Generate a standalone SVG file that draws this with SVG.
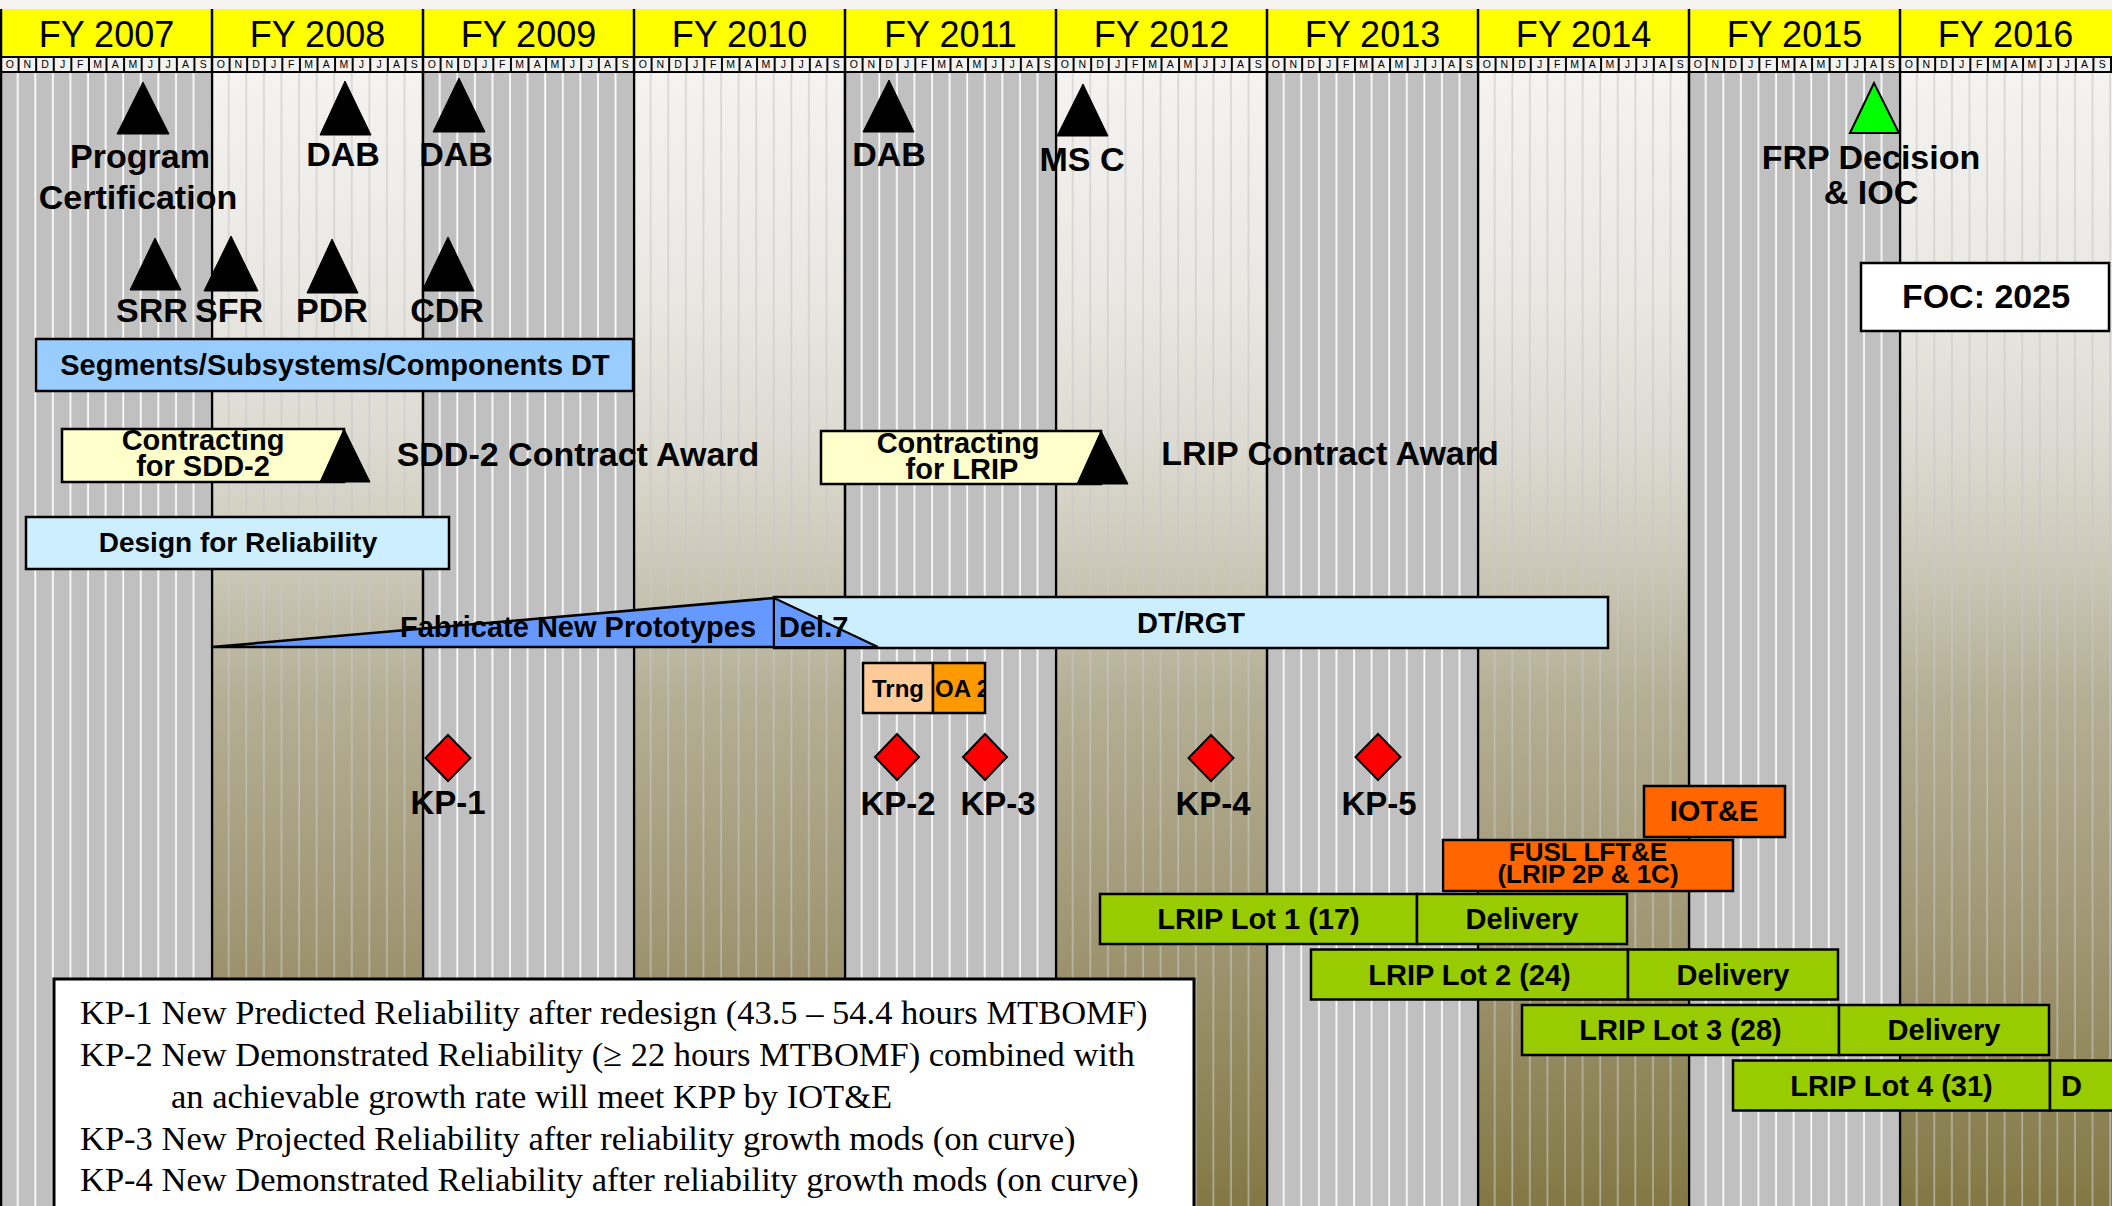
<svg xmlns="http://www.w3.org/2000/svg" width="2112" height="1206" viewBox="0 0 2112 1206">
<defs>
<style>
text{font-family:"Liberation Sans",Arial,sans-serif;fill:#000}
.fy{font-size:36px;text-anchor:middle}
.mon{font-size:10.5px;text-anchor:middle}
.b{font-weight:bold;text-anchor:middle}
.ms{font-size:34px}
.kp{font-size:33px}
.bl{font-size:29px}
.sm{font-size:26px}
.leg{font-family:"Liberation Serif","Times New Roman",serif;font-size:34.5px}
.tri{fill:#000;stroke:#000;stroke-width:1}
.box{stroke:#000;stroke-width:2.5}
.dia{fill:#f00;stroke:#000;stroke-width:2}
.yb{stroke:#000;stroke-width:2.5}
.grn{fill:#99cc00}
</style>
<linearGradient id="grad" gradientUnits="userSpaceOnUse" x1="0" y1="73" x2="0" y2="1206">
<stop offset="0" stop-color="#f4f3f0"/>
<stop offset="0.2" stop-color="#e9e7e2"/>
<stop offset="0.333" stop-color="#dcd9d0"/>
<stop offset="0.43" stop-color="#cdc9ba"/>
<stop offset="0.553" stop-color="#b4ae94"/>
<stop offset="0.774" stop-color="#9e9571"/>
<stop offset="1" stop-color="#837844"/>
</linearGradient>
<pattern id="wstripe" patternUnits="userSpaceOnUse" x="0" y="0" width="17.583" height="20"><rect x="15.9" y="0" width="1.7" height="20" fill="#fff"/></pattern>
<pattern id="gstripe" patternUnits="userSpaceOnUse" x="0" y="0" width="17.583" height="20"><rect x="15.9" y="0" width="1.7" height="20" fill="#c8c8c8" fill-opacity="0.65"/></pattern>
<pattern id="mcell" patternUnits="userSpaceOnUse" x="0" y="58" width="17.583" height="13"><rect x="1" y="0" width="15.6" height="13" fill="#f3f2ee"/></pattern>
<g id="oddcol"><rect x="0" y="73" width="222" height="1133" fill="#c0c0c0"/><rect x="0" y="73" width="222" height="1133" fill="url(#wstripe)"/></g>
<g id="evencol"><rect x="0" y="73" width="222" height="1133" fill="url(#grad)"/><rect x="0" y="73" width="222" height="1133" fill="url(#gstripe)"/></g>
<g id="mrow"><rect x="0" y="58" width="211" height="13" fill="url(#mcell)"/><text class="mon" x="8.79 26.38 43.96 61.54 79.13 96.71 114.29 131.88 149.46 167.04 184.63 202.21" y="68">ONDJFMAMJJAS</text></g>
<clipPath id="oa2clip"><rect x="933" y="663" width="52" height="50"/></clipPath>
<clipPath id="delclip"><rect x="2050" y="1060" width="33" height="52"/></clipPath>
</defs>

<g id="background">
<rect x="0" y="0" width="2112" height="1206" fill="#f5f4f0"/>
<use href="#oddcol" x="1"/>
<use href="#evencol" x="212"/>
<use href="#oddcol" x="423"/>
<use href="#evencol" x="634"/>
<use href="#oddcol" x="845"/>
<use href="#evencol" x="1056"/>
<use href="#oddcol" x="1267"/>
<use href="#evencol" x="1478"/>
<use href="#oddcol" x="1689"/>
<use href="#evencol" x="1900"/>
</g>

<g id="header">
<rect x="0" y="9" width="2112" height="48" fill="#ffff00"/>
<rect x="0" y="56" width="2112" height="17" fill="#000"/>
<use href="#mrow" x="1"/>
<use href="#mrow" x="212"/>
<use href="#mrow" x="423"/>
<use href="#mrow" x="634"/>
<use href="#mrow" x="845"/>
<use href="#mrow" x="1056"/>
<use href="#mrow" x="1267"/>
<use href="#mrow" x="1478"/>
<use href="#mrow" x="1689"/>
<use href="#mrow" x="1900"/>
<text class="fy" x="106.5" y="47">FY 2007</text>
<text class="fy" x="317.5" y="47">FY 2008</text>
<text class="fy" x="528.5" y="47">FY 2009</text>
<text class="fy" x="739.5" y="47">FY 2010</text>
<text class="fy" x="950.5" y="47">FY 2011</text>
<text class="fy" x="1161.5" y="47">FY 2012</text>
<text class="fy" x="1372.5" y="47">FY 2013</text>
<text class="fy" x="1583.5" y="47">FY 2014</text>
<text class="fy" x="1794.5" y="47">FY 2015</text>
<text class="fy" x="2005.5" y="47">FY 2016</text>
</g>

<g id="year-lines">
<line class="yb" x1="1" y1="9" x2="1" y2="1206"/>
<line class="yb" x1="212" y1="9" x2="212" y2="1206"/>
<line class="yb" x1="423" y1="9" x2="423" y2="1206"/>
<line class="yb" x1="634" y1="9" x2="634" y2="1206"/>
<line class="yb" x1="845" y1="9" x2="845" y2="1206"/>
<line class="yb" x1="1056" y1="9" x2="1056" y2="1206"/>
<line class="yb" x1="1267" y1="9" x2="1267" y2="1206"/>
<line class="yb" x1="1478" y1="9" x2="1478" y2="1206"/>
<line class="yb" x1="1689" y1="9" x2="1689" y2="1206"/>
<line class="yb" x1="1900" y1="9" x2="1900" y2="1206"/>
</g>

<g id="connectors"></g>

<g id="m-program-certification"><polygon class="tri" points="143,82 117,134 169,134"/><text class="b ms" x="140" y="168">Program</text><text class="b ms" x="138" y="209">Certification</text></g>
<g id="m-dab-2008"><polygon class="tri" points="345,81 320,135 371,135"/><text class="b ms" x="343" y="166">DAB</text></g>
<g id="m-dab-2009"><polygon class="tri" points="459,78 433,132 485,132"/><text class="b ms" x="456" y="166">DAB</text></g>
<g id="m-dab-2011"><polygon class="tri" points="889,80 863,132 914,132"/><text class="b ms" x="889" y="166">DAB</text></g>
<g id="m-msc"><polygon class="tri" points="1083,84 1057,136 1108,136"/><text class="b ms" x="1082" y="171">MS C</text></g>
<g id="m-frp"><polygon points="1874,83 1850,133 1899,133" fill="#00ff00" stroke="#000" stroke-width="2"/><text class="b ms" x="1871" y="169">FRP Decision</text><text class="b ms" x="1871" y="204">&amp; IOC</text></g>
<g id="foc"><rect class="box" x="1861" y="263" width="248" height="68" fill="#fff"/><text class="b ms" x="1986" y="308">FOC: 2025</text></g>
<g id="m-srr"><polygon class="tri" points="155,238 130,290 181,290"/><text class="b ms" x="152" y="322">SRR</text></g>
<g id="m-sfr"><polygon class="tri" points="231,236 204,291 258,291"/><text class="b ms" x="229" y="322">SFR</text></g>
<g id="m-pdr"><polygon class="tri" points="332,239 307,293 358,293"/><text class="b ms" x="332" y="322">PDR</text></g>
<g id="m-cdr"><polygon class="tri" points="448,237 422,291 474,291"/><text class="b ms" x="447" y="322">CDR</text></g>

<g id="b-segments"><rect class="box" x="36" y="339" width="597" height="52" fill="#99ccff"/><text class="b bl" x="335" y="375">Segments/Subsystems/Components DT</text></g>
<g id="b-contract-sdd2"><rect class="box" x="62" y="429" width="282" height="53" fill="#ffffcc"/><polygon class="tri" points="344,429 320,482 370,482"/><text class="b bl" x="203" y="450">Contracting</text><text class="b bl" x="203" y="476">for SDD-2</text></g>
<g id="l-sdd2-award"><text class="b ms" x="578" y="466">SDD-2 Contract Award</text></g>
<g id="b-contract-lrip"><rect class="box" x="821" y="431" width="280" height="53" fill="#ffffcc"/><polygon class="tri" points="1101,431 1077,484 1128,484"/><text class="b bl" x="958" y="453">Contracting</text><text class="b bl" x="962" y="479">for LRIP</text></g>
<g id="l-lrip-award"><text class="b ms" x="1330" y="465">LRIP Contract Award</text></g>
<g id="b-dfr"><rect class="box" x="26" y="517" width="423" height="52" fill="#cceeff"/><text class="b" style="font-size:28px" x="238" y="552">Design for Reliability</text></g>

<g id="b-dtrgt"><rect class="box" x="774" y="597" width="834" height="51" fill="#cceeff"/><text class="b bl" x="1191" y="633">DT/RGT</text></g>
<g id="b-fabricate"><polygon class="box" points="212,647 774,598 774,647" fill="#6699ff" stroke-linejoin="round"/><text class="b bl" x="578" y="637">Fabricate New Prototypes</text></g>
<g id="b-del7"><polygon points="774,598 878,647 774,647" fill="#6699ff" stroke="#000" stroke-width="2"/><text class="bl" style="font-weight:bold" x="779" y="637">Del.7</text></g>

<g id="b-trng"><rect class="box" x="863" y="663" width="70" height="50" fill="#ffcc99"/><text class="b" style="font-size:24px" x="898" y="697">Trng</text></g>
<g id="b-oa2"><rect class="box" x="933" y="663" width="52" height="50" fill="#ff9900"/><text style="font-size:24px;font-weight:bold" x="935" y="697" clip-path="url(#oa2clip)">OA 2</text></g>

<g id="kp-1"><polygon class="dia" points="448,735 470.5,758 448,781 425.5,758"/><text class="b kp" x="448" y="814">KP-1</text></g>
<g id="kp-2"><polygon class="dia" points="897,734 919,757 897,780 875,757"/><text class="b kp" x="898" y="815">KP-2</text></g>
<g id="kp-3"><polygon class="dia" points="985,734 1007,757 985,780 963,757"/><text class="b kp" x="998" y="815">KP-3</text></g>
<g id="kp-4"><polygon class="dia" points="1211,735 1233.5,758 1211,781 1188.5,758"/><text class="b kp" x="1213" y="815">KP-4</text></g>
<g id="kp-5"><polygon class="dia" points="1378,734 1400.5,757 1378,780 1355.5,757"/><text class="b kp" x="1379" y="815">KP-5</text></g>

<g id="b-iote"><rect class="box" x="1644" y="786" width="141" height="51" fill="#ff6600"/><text class="b bl" x="1714" y="821">IOT&amp;E</text></g>
<g id="b-fusl"><rect class="box" x="1443" y="840" width="290" height="51" fill="#ff6600"/><text class="b sm" x="1588" y="861">FUSL LFT&amp;E</text><text class="b sm" x="1588" y="883">(LRIP 2P &amp; 1C)</text></g>

<g id="lot-1"><rect class="box grn" x="1100" y="894" width="317" height="50"/><rect class="box grn" x="1417" y="894" width="210" height="50"/><text class="b bl" x="1258.5" y="929">LRIP Lot 1 (17)</text><text class="b bl" x="1522" y="929">Delivery</text></g>
<g id="lot-2"><rect class="box grn" x="1311" y="949.5" width="317" height="50"/><rect class="box grn" x="1628" y="949.5" width="210" height="50"/><text class="b bl" x="1469.5" y="984.5">LRIP Lot 2 (24)</text><text class="b bl" x="1733" y="984.5">Delivery</text></g>
<g id="lot-3"><rect class="box grn" x="1522" y="1005" width="317" height="50"/><rect class="box grn" x="1839" y="1005" width="210" height="50"/><text class="b bl" x="1680.5" y="1040">LRIP Lot 3 (28)</text><text class="b bl" x="1944" y="1040">Delivery</text></g>
<g id="lot-4"><rect class="box grn" x="1733" y="1060.5" width="317" height="50"/><rect class="box grn" x="2050" y="1060.5" width="210" height="50"/><text class="b bl" x="1891.5" y="1095.5">LRIP Lot 4 (31)</text><text class="bl" style="font-weight:bold" x="2061" y="1095.5" clip-path="url(#delclip)">Delivery</text></g>

<g id="legend">
<rect x="54" y="979" width="1140" height="240" fill="#fff" stroke="#000" stroke-width="3"/>
<text class="leg" x="80" y="1024">KP-1 New Predicted Reliability after redesign (43.5 – 54.4 hours MTBOMF)</text>
<text class="leg" x="80" y="1066">KP-2 New Demonstrated Reliability (≥ 22 hours MTBOMF) combined with</text>
<text class="leg" x="171" y="1108">an achievable growth rate will meet KPP by IOT&amp;E</text>
<text class="leg" x="80" y="1149.5">KP-3 New Projected Reliability after reliability growth mods (on curve)</text>
<text class="leg" x="80" y="1191">KP-4 New Demonstrated Reliability after reliability growth mods (on curve)</text>
</g>
</svg>
